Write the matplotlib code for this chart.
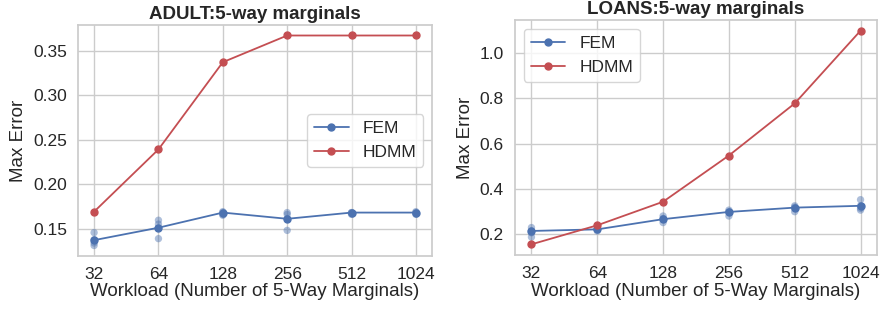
import numpy as np
import matplotlib
matplotlib.use("Agg")
import matplotlib.pyplot as plt
import seaborn as sns

sns.set_theme(style="whitegrid")
plt.rcParams["font.family"] = ["Liberation Sans", "DejaVu Sans"]

workloads = [32, 64, 128, 256, 512, 1024]
tick_labels = ["32", "64", "128", "256", "512", "1024"]

# ADULT
adult_hdmm = [0.169, 0.239, 0.337, 0.367, 0.367, 0.367]
adult_fem = [0.137, 0.151, 0.168, 0.161, 0.168, 0.168]
adult_fem_runs = [
    [0.1455, 0.1375, 0.1338, 0.131],
    [0.1594, 0.155, 0.1508, 0.1387],
    [0.169, 0.165, 0.168, 0.166],
    [0.168, 0.1613, 0.148, 0.166],
    [0.168, 0.166, 0.167, 0.168],
    [0.169, 0.166, 0.168, 0.167],
]

# LOANS
loans_hdmm = [0.156, 0.240, 0.344, 0.548, 0.778, 1.099]
loans_fem = [0.215, 0.222, 0.267, 0.299, 0.318, 0.326]
loans_fem_runs = [
    [0.230, 0.215, 0.188, 0.207],
    [0.222, 0.215, 0.225, 0.220],
    [0.281, 0.267, 0.252, 0.270],
    [0.307, 0.297, 0.281, 0.300],
    [0.326, 0.315, 0.300, 0.320],
    [0.353, 0.326, 0.307, 0.315],
]

BLUE = "#4c72b0"
RED = "#c44e52"


def _panel(ax, title, fem, fem_runs, hdmm, legend_loc, title_pad):
    for x, runs in zip(workloads, fem_runs):
        ax.scatter([x] * len(runs), runs, color=BLUE, alpha=0.45, s=28,
                   edgecolors="none", zorder=2)
    ax.plot(workloads, fem, color=BLUE, marker="o", markersize=5,
            linewidth=1.3, label="FEM", zorder=3)
    ax.plot(workloads, hdmm, color=RED, marker="o", markersize=5,
            linewidth=1.3, label="HDMM", zorder=3)
    ax.set_xscale("log", base=2)
    ax.set_xticks(workloads)
    ax.set_xticklabels(tick_labels)
    ax.minorticks_off()
    ax.tick_params(labelsize=12.5, pad=2)
    ax.set_xlabel("Workload (Number of 5-Way Marginals)", fontsize=13.5, labelpad=1)
    ax.set_ylabel("Max Error", fontsize=13.5, labelpad=4)
    ax.set_title(title, fontsize=13.5, fontweight="bold", pad=title_pad)
    ax.legend(loc=legend_loc, fontsize=12.5, frameon=True)


fig = plt.figure(figsize=(8.81, 3.12), dpi=100)
ax1 = fig.add_axes([78 / 881, 56 / 312, 354 / 881, 231 / 312])
ax2 = fig.add_axes([515 / 881, 57 / 312, 362 / 881, 235 / 312])

_panel(ax1, "ADULT:5-way marginals", adult_fem, adult_fem_runs, adult_hdmm,
       "center right", 4)
_panel(ax2, "LOANS:5-way marginals", loans_fem, loans_fem_runs, loans_hdmm,
       "upper left", 4)
ax1.set_yticks([0.15, 0.20, 0.25, 0.30, 0.35])
ax2.set_yticks([0.2, 0.4, 0.6, 0.8, 1.0])

fig.savefig("out.png", dpi=100)
